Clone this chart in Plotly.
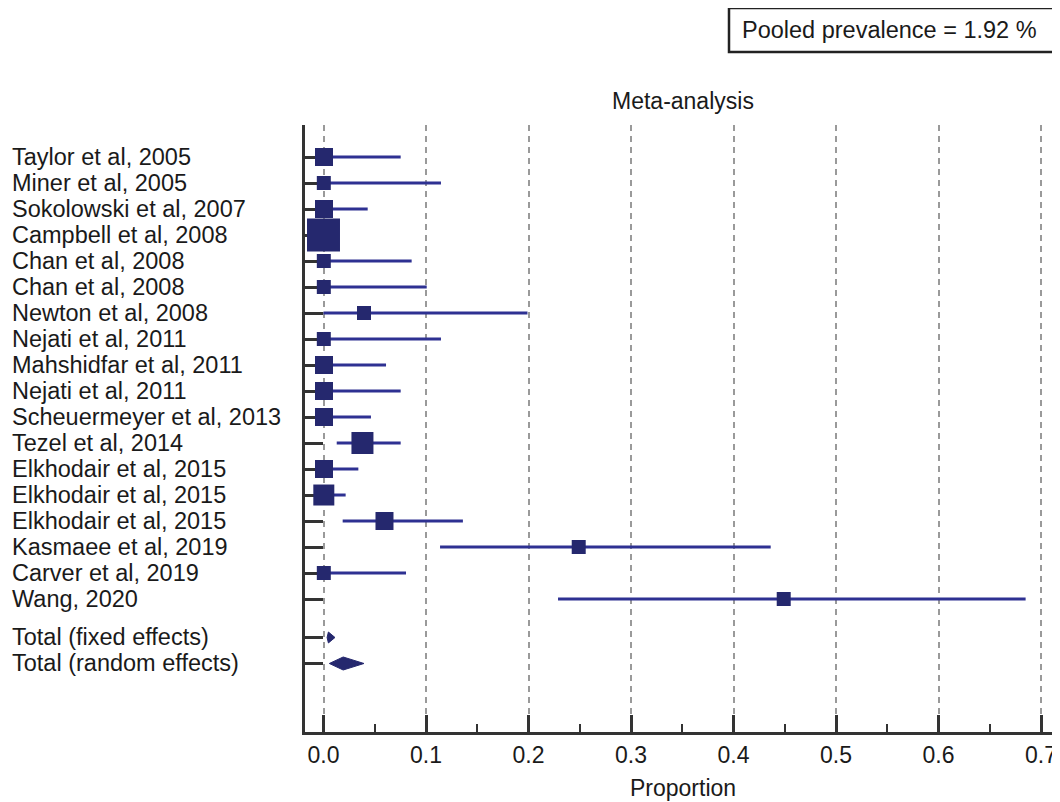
import plotly.graph_objects as go

# ---------------- data ----------------
studies = [
    "Taylor et al, 2005", "Miner et al, 2005", "Sokolowski et al, 2007",
    "Campbell et al, 2008", "Chan et al, 2008", "Chan et al, 2008",
    "Newton et al, 2008", "Nejati et al, 2011", "Mahshidfar et al, 2011",
    "Nejati et al, 2011", "Scheuermeyer et al, 2013", "Tezel et al, 2014",
    "Elkhodair et al, 2015", "Elkhodair et al, 2015", "Elkhodair et al, 2015",
    "Kasmaee et al, 2019", "Carver et al, 2019", "Wang, 2020",
]
proportion = [0.0005, 0.0003, 0.0005, 0.0, 0.0003, 0.0003, 0.0395, 0.0003, 0.0005,
              0.0005, 0.0005, 0.038, 0.0005, 0.0003, 0.0595, 0.249, 0.0003, 0.449]
ci_low = [0.0, 0.0, 0.0, 0.0, 0.0, 0.0, 0.0, 0.0, 0.0,
          0.0, 0.0, 0.0129, 0.0, 0.0, 0.0187, 0.1137, 0.0, 0.2288]
ci_high = [0.0753, 0.1146, 0.0431, 0.0150, 0.086, 0.1007, 0.199, 0.1146, 0.061,
           0.0753, 0.0463, 0.0753, 0.034, 0.0216, 0.136, 0.4363, 0.0805, 0.685]
weight_pct = [5.54, 3.35, 5.54, 18.6, 3.35, 3.35, 3.35, 3.35, 5.54,
              5.54, 5.54, 8.28, 5.54, 7.54, 5.54, 3.35, 3.35, 3.35]

total_labels = ["Total (fixed effects)", "Total (random effects)"]
total_est = [0.0048, 0.0192]
total_low = [0.0035, 0.0057]
total_high = [0.0112, 0.0395]

pooled_text = "Pooled prevalence = 1.92 %"
x_ticks = [0.0, 0.1, 0.2, 0.3, 0.4, 0.5, 0.6, 0.7]

# ---------------- layout helpers ----------------
n = len(studies)
study_y = list(range(n))
total_y = [n - 1 + 1.48, n - 1 + 2.48]
diamond_half = [0.21, 0.25]

NAVY = "#25286e"
LINE_BLUE = "#2e3192"
AXIS = "#333333"
TXT = "#1a1a1a"
FONT = "Liberation Sans, Arial, sans-serif"
FS = 23.5

# the page body adds an 8px offset; figure is sized to fit the 1060x802 window
OFF = 8
W, H = 1060 - OFF, 802 - OFF
L, T, B = 305 - OFF, 125 - OFF, 70
PW, PH = W - L, H - T - B


def px_x(px):
    return (px - OFF - L) / PW


def px_y(py):
    return (H - B - (py - OFF)) / PH


fig = go.Figure()

# confidence interval lines
cx, cy = [], []
for lo, hi, y in zip(ci_low, ci_high, study_y):
    cx += [lo, hi, None]
    cy += [y, y, None]
fig.add_trace(go.Scatter(x=cx, y=cy, mode="lines",
                         line=dict(color=LINE_BLUE, width=3),
                         hoverinfo="skip", showlegend=False))

# point estimates (squares sized by weight)
sizes = [7.645 * (w ** 0.5) for w in weight_pct]
fig.add_trace(go.Scatter(x=proportion, y=study_y, mode="markers",
                         marker=dict(symbol="square", size=sizes, color=NAVY,
                                     opacity=1, line=dict(width=0)),
                         text=studies, showlegend=False))

# pooled diamonds
for est, lo, hi, y, h in zip(total_est, total_low, total_high, total_y, diamond_half):
    fig.add_trace(go.Scatter(x=[lo, est, hi, est, lo], y=[y, y - h, y, y + h, y],
                             mode="lines", fill="toself", fillcolor=NAVY,
                             line=dict(color=NAVY, width=1),
                             hoverinfo="skip", showlegend=False))

# study labels (left aligned)
all_labels = studies + total_labels
all_y = study_y + total_y
for lab, y in zip(all_labels, all_y):
    fig.add_annotation(text=lab, x=px_x(10), xref="paper", xanchor="left",
                       y=y, yref="y", yanchor="middle", showarrow=False,
                       font=dict(family=FONT, size=FS, color=TXT))

# title & axis title
fig.add_annotation(text="Meta-analysis", x=0.5, xref="paper", y=px_y(101),
                   yref="paper", yanchor="middle", showarrow=False,
                   font=dict(family=FONT, size=23, color=TXT))
fig.add_annotation(text="Proportion", x=0.5, xref="paper", y=px_y(788),
                   yref="paper", yanchor="middle", showarrow=False,
                   font=dict(family=FONT, size=23, color=TXT))

# pooled prevalence box
fig.add_shape(type="rect", xref="paper", yref="paper",
              x0=px_x(729), x1=px_x(1058), y0=px_y(52), y1=px_y(8),
              line=dict(color="#222222", width=2.5), fillcolor="white")
fig.add_annotation(text=pooled_text, x=px_x(740), xref="paper", xanchor="left",
                   y=px_y(30), yref="paper", yanchor="middle", showarrow=False,
                   font=dict(family=FONT, size=FS, color=TXT))

fig.update_layout(
    width=W, height=H, autosize=False,
    margin=dict(l=L, r=0, t=T, b=B),
    paper_bgcolor="white", plot_bgcolor="white",
    showlegend=False,
    xaxis=dict(range=[-0.01805, 0.71854], tickvals=x_ticks,
               ticktext=[f"{v:.1f}" for v in x_ticks],
               ticks="inside", ticklen=17, tickwidth=3, tickcolor=AXIS,
               showline=True, linewidth=3, linecolor=AXIS,
               showgrid=True, gridcolor="#9a9a9a", gridwidth=1.5, griddash="6px,5px",
               zeroline=False,
               minor=dict(dtick=0.05, tick0=0, ticks="inside", ticklen=8,
                          tickwidth=2, tickcolor=AXIS, showgrid=False),
               tickfont=dict(family=FONT, size=23, color=TXT)),
    yaxis=dict(range=[22.115, -1.231], tickvals=all_y, showticklabels=False,
               ticks="inside", ticklen=18, tickwidth=2.5, tickcolor=AXIS,
               showline=True, linewidth=3, linecolor=AXIS, layer="below traces",
               showgrid=False, zeroline=False),
)

fig.write_html("out.html")
